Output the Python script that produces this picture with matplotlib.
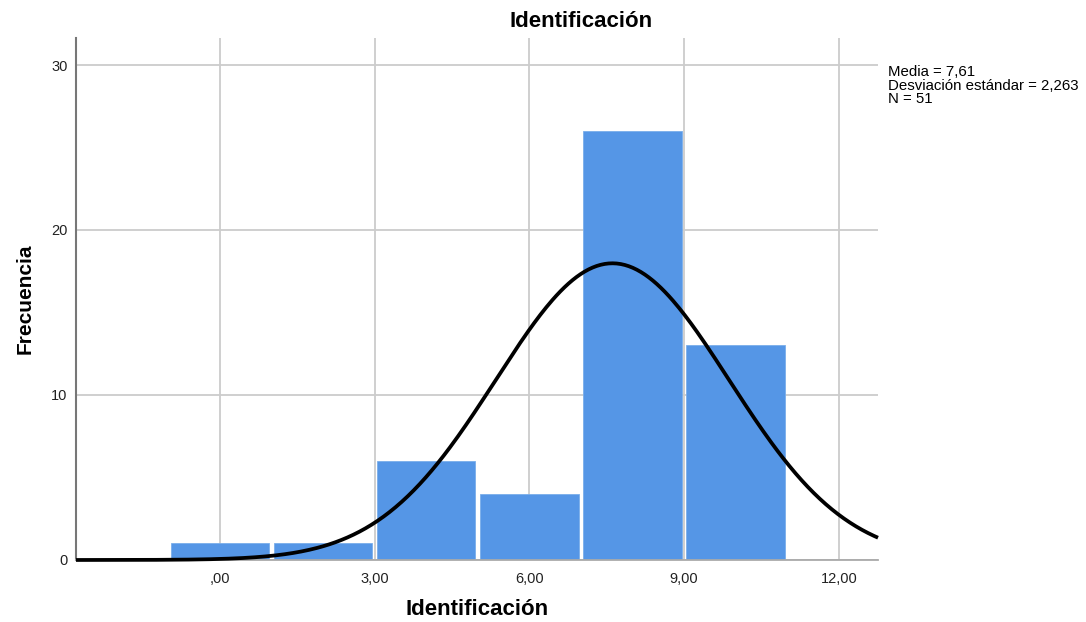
import numpy as np
import matplotlib
matplotlib.use("Agg")
import matplotlib.pyplot as plt

plt.rcParams['font.family'] = ['Liberation Sans', 'DejaVu Sans']

bin_edges = [-1, 1, 3, 5, 7, 9, 11]
counts = [1, 1, 6, 4, 26, 13]
mean = 7.61
std = 2.263
n = 51
xticks = [0, 3, 6, 9, 12]
xtick_labels = [',00', '3,00', '6,00', '9,00', '12,00']
yticks = [0, 10, 20, 30]

fig = plt.figure(figsize=(10.86, 6.22), dpi=100)
ax = fig.add_axes([0.070, 0.0997, 0.7385, 0.8393])

xmin, xmax = -2.79, 12.76
ax.set_xlim(xmin, xmax)
ax.set_ylim(0, 31.64)

ax.set_axisbelow(True)
ax.grid(True, color='#cccccc', linewidth=1.3)

edges = np.array(bin_edges, dtype=float)
centers = (edges[:-1] + edges[1:]) / 2
widths = np.diff(edges)
gap = 0.09
ax.bar(centers, counts, width=widths - gap, align='center', color='#5596e6',
       edgecolor='#7aaeea', linewidth=0.6, zorder=2)

bw = widths[0]
xs = np.linspace(xmin, xmax, 400)
ys = n * bw * np.exp(-0.5 * ((xs - mean) / std) ** 2) / (std * np.sqrt(2 * np.pi))
ax.plot(xs, ys, color='black', linewidth=2.7, zorder=3, clip_on=False,
        solid_capstyle='butt')

ax.set_xticks(xticks)
ax.set_xticklabels(xtick_labels)
ax.set_yticks(yticks)
ax.tick_params(axis='both', length=0, labelsize=10.5, colors='#222222')
ax.tick_params(axis='x', pad=9)
ax.tick_params(axis='y', pad=6)

for s in ['top', 'right']:
    ax.spines[s].set_visible(False)
ax.spines['left'].set_color('#777777')
ax.spines['left'].set_linewidth(1.5)
ax.spines['bottom'].set_color('#aaaaaa')
ax.spines['bottom'].set_linewidth(1.3)

fig.text(0.535, 0.965, 'Identificación', fontsize=16, fontweight='bold',
         ha='center', va='center')
ax.set_xlabel('Identificación', fontsize=16, fontweight='bold', labelpad=9)
ax.set_ylabel('Frecuencia', fontsize=15, fontweight='bold', labelpad=12)

fig.text(0.818, 0.895, f'Media = {mean:.2f}'.replace('.', ',') + '\n'
         + f'Desviación estándar = {std:.3f}'.replace('.', ',') + '\n'
         + f'N = {n}', fontsize=10.8, va='top', ha='left', linespacing=0.93)

fig.savefig('out.png', dpi=100)
